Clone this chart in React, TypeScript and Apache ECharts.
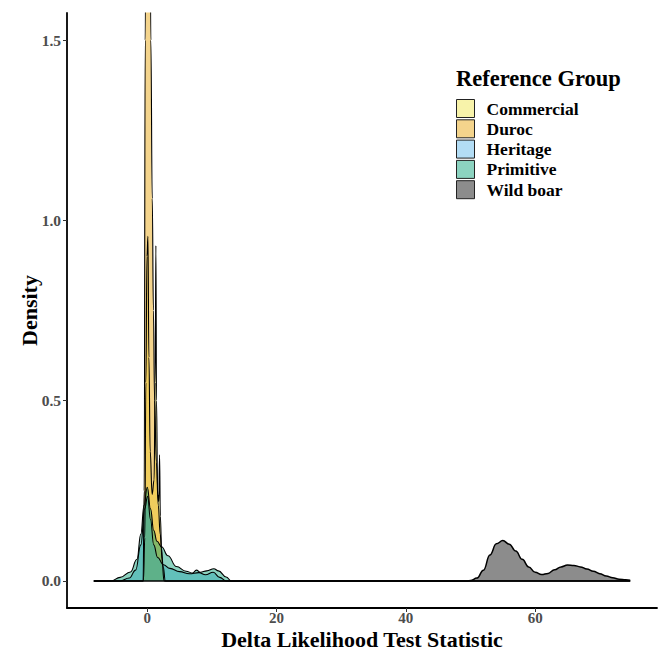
import React, { useEffect, useRef } from "react";
import * as echarts from "echarts";

// ---- data ----
const groups = ["Commercial", "Duroc", "Heritage", "Primitive", "Wild boar"];
const fillColors = ["#F0E442", "#E69F00", "#56B4E9", "#009E73", "#000000"];
const keyColors = ["#F8F3AA", "#F4D48C", "#B3DDF5", "#8CD3C0", "#8C8C8C"];
const fillAlpha = 0.45;

const rangeMin = -8.27;
const rangeMax = 74.7;

const commercialPts = [
  [-0.6, 0], [-0.38, 0.12], [-0.22, 0.55], [-0.05, 0.9], [0.1, 0.956], [0.25, 0.62],
  [0.45, 0.36], [0.75, 0.24], [1.05, 0.28], [1.22, 0.55], [1.33, 0.93], [1.43, 0.5],
  [1.6, 0.24], [1.78, 0.22], [1.9, 0.35], [2.02, 0.18], [2.25, 0.06], [2.6, 0],
];
const durocPts = [
  [-0.65, 0], [-0.48, 0.25], [-0.32, 1.5], [-0.12, 2.6], [0.12, 2.9], [0.38, 2.2],
  [0.55, 1.5], [0.77, 1.06], [0.95, 0.75], [1.13, 0.5], [1.4, 0.33], [1.7, 0.21],
  [2.0, 0.13], [2.2, 0.09], [2.45, 0.04], [2.8, 0],
];
const heritagePts = [
  [-4.2, 0], [-2.8, 0.008], [-1.8, 0.03], [-1.0, 0.1], [-0.4, 0.2], [0.05, 0.235],
  [0.5, 0.17], [1.0, 0.1], [1.6, 0.065], [2.5, 0.045], [3.5, 0.035], [5.0, 0.026],
  [6.5, 0.02], [8.0, 0.023], [9.0, 0.017], [10.2, 0.024], [11.2, 0.01], [12.2, 0],
];
const primitivePts = [
  [-5.6, 0], [-4.2, 0.01], [-2.6, 0.025], [-1.6, 0.06], [-1.0, 0.13], [-0.5, 0.21],
  [0.0, 0.26], [0.5, 0.2], [1.0, 0.14], [1.5, 0.11], [2.2, 0.095], [3.2, 0.07],
  [4.5, 0.04], [6.0, 0.027], [7.0, 0.022], [7.6, 0.03], [8.2, 0.024], [9.2, 0.028],
  [10.3, 0.034], [11.0, 0.028], [12.2, 0.011], [13.0, 0],
];
const wildBoarPts = [
  [49.5, 0], [50, 0.001], [51, 0.008], [52, 0.03], [53, 0.072], [54, 0.103], [55, 0.112],
  [56, 0.102], [57, 0.083], [58, 0.06], [59, 0.039], [60, 0.024], [61, 0.018], [62, 0.021],
  [63, 0.031], [64, 0.039], [65, 0.044], [66, 0.043], [67, 0.039], [68, 0.033], [69, 0.027],
  [70, 0.02], [71, 0.014], [72, 0.009], [73, 0.005], [74, 0.003], [74.7, 0.002],
];
const seriesPts = [commercialPts, durocPts, heritagePts, primitivePts, wildBoarPts];

const xTicks = [0, 20, 40, 60];
const yTicks = [0, 0.5, 1.0, 1.5];
const xLimits = [-12.42, 78.85];
const yLimits = [-0.075, 1.575];

const FONT = '"Liberation Serif", "Times New Roman", serif';

function withRange(pts: number[][]): number[][] {
  const out: number[][] = [];
  if (pts[0][0] > rangeMin) out.push([rangeMin, 0]);
  for (const p of pts) out.push(p);
  if (pts[pts.length - 1][0] < rangeMax) out.push([rangeMax, 0]);
  return out;
}

export default function App() {
  const ref = useRef<HTMLDivElement>(null);
  useEffect(() => {
    if (!ref.current) return;
    const chart = echarts.init(ref.current, null, { renderer: "svg" });
    const option: any = {
      animation: false,
      backgroundColor: "#ffffff",
      grid: {
        left: 67,
        right: 2,
        top: 13,
        bottom: 42,
        containLabel: false,
        outerBoundsMode: "none",
      },
      xAxis: {
        type: "value",
        min: xLimits[0],
        max: xLimits[1],
        name: "Delta Likelihood Test Statistic",
        nameLocation: "middle",
        nameGap: 20,
        nameMoveOverlap: false,
        nameTextStyle: { fontFamily: FONT, fontWeight: "bold", fontSize: 22, lineHeight: 22, color: "#000" },
        axisLine: { show: true, onZero: false, lineStyle: { color: "#000", width: 1.8 } },
        axisTick: { show: true, length: 4, customValues: xTicks, lineStyle: { color: "#333", width: 1 } },
        axisLabel: {
          customValues: xTicks,
          margin: 3,
          lineHeight: 14,
          fontFamily: FONT,
          fontWeight: "bold",
          fontSize: 15,
          color: "#4D4D4D",
          formatter: (v: number) => String(v),
        },
        splitLine: { show: false },
      },
      yAxis: {
        type: "value",
        min: yLimits[0],
        max: yLimits[1],
        name: "Density",
        nameLocation: "middle",
        nameRotate: 90,
        nameGap: 27,
        nameMoveOverlap: false,
        nameTextStyle: { fontFamily: FONT, fontWeight: "bold", fontSize: 22, color: "#000" },
        axisLine: { show: true, onZero: false, lineStyle: { color: "#000", width: 1.8 } },
        axisTick: { show: true, length: 4, customValues: yTicks, lineStyle: { color: "#333", width: 1 } },
        axisLabel: {
          customValues: yTicks,
          margin: 6,
          fontFamily: FONT,
          fontWeight: "bold",
          fontSize: 15.5,
          color: "#4D4D4D",
          formatter: (v: number) => v.toFixed(1),
        },
        splitLine: { show: false },
      },
      legend: {
        orient: "vertical",
        left: 451,
        top: 94,
        icon: "rect",
        itemWidth: 18,
        itemHeight: 18,
        itemGap: 1.3,
        textStyle: {
          fontFamily: FONT,
          fontWeight: "bold",
          fontSize: 17.5,
          color: "#000",
          padding: [0, 0, 0, 7],
        },
        data: groups.map((g, i) => ({
          name: g,
          itemStyle: { color: keyColors[i], borderColor: "#222", borderWidth: 1, opacity: 1 },
        })),
      },
      graphic: [
        {
          type: "text",
          left: 456,
          top: 67,
          style: { text: "Reference Group", font: `bold 22.5px ${FONT}`, fill: "#000" },
        },
      ],
      series: groups.map((g, i) => ({
        type: "line",
        name: g,
        data: withRange(seriesPts[i]),
        smooth: 0.45,
        smoothMonotone: "x",
        showSymbol: false,
        symbol: "none",
        clip: true,
        lineStyle: { color: "#000", width: i === 4 ? 1.5 : 1.1 },
        itemStyle: { color: keyColors[i] },
        areaStyle: { color: fillColors[i], opacity: fillAlpha },
        emphasis: { disabled: true },
      })),
    };
    chart.setOption(option);
    return () => chart.dispose();
  }, []);
  return (
    <div
      ref={ref}
      style={{ position: "fixed", left: 0, top: 0, width: 659, height: 650, background: "#fff" }}
    />
  );
}
